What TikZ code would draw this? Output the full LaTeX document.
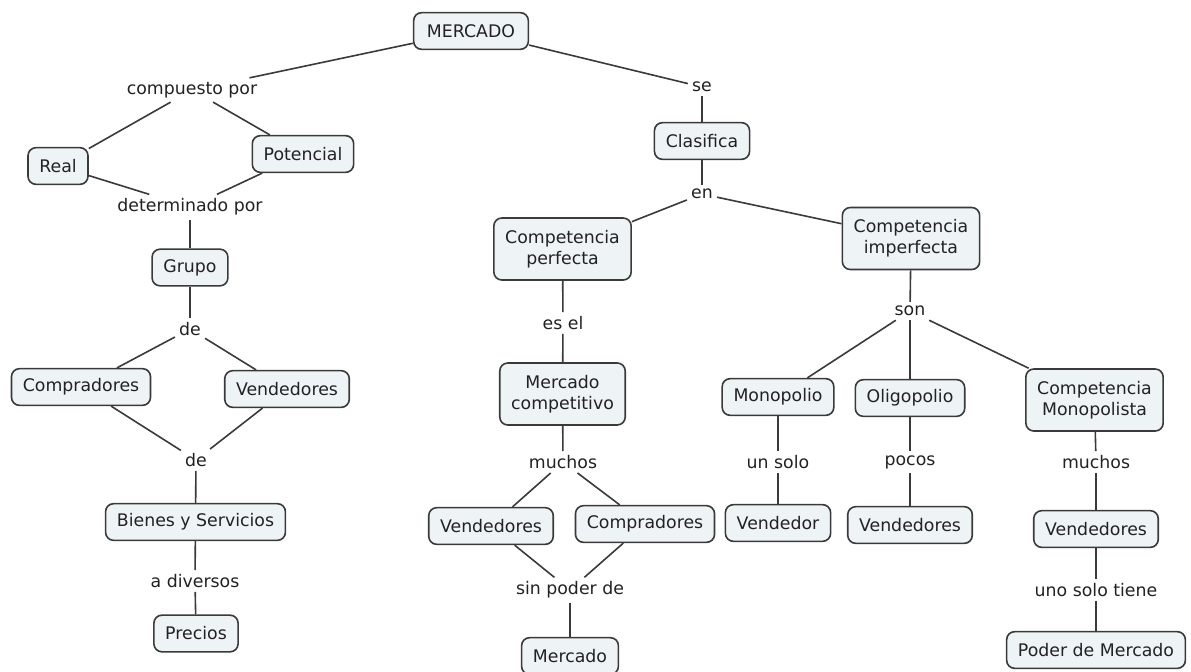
\documentclass[tikz,border=0pt]{standalone}
\usepackage{fontspec}
\setmainfont{DejaVu Sans}
\definecolor{boxfill}{HTML}{EEF3F6}
\definecolor{edge}{HTML}{3A3A3A}
\definecolor{txt}{HTML}{222222}
\begin{document}
\begin{tikzpicture}[x=0.75pt,y=-0.75pt,
  concept/.style={draw=edge,fill=boxfill,rounded corners=6pt,line width=1.2pt,
    inner xsep=8.5pt,inner ysep=4pt,minimum height=27.5pt,align=center,text=txt,
    font=\fontsize{13}{16}\selectfont},
  twoline/.style={minimum height=46.5pt},
  link/.style={inner sep=3pt,text=txt,font=\fontsize{13}{16}\selectfont},
  conn/.style={draw=edge,line width=1.2pt}]
\useasboundingbox[fill=white] (0,0) rectangle (1191,671);
% concepts
\node[concept,inner xsep=10pt] (mercado) at (471,31) {MERCADO};
\node[concept] (real) at (58,166) {Real};
\node[concept] (potencial) at (303,154) {Potencial};
\node[concept] (clasifica) at (702,141) {Clasifica};
\node[concept,twoline] (cperf) at (562.5,249) {Competencia\\perfecta};
\node[concept,twoline] (cimp) at (911,238.5) {Competencia\\imperfecta};
\node[concept] (grupo) at (190,267.5) {Grupo};
\node[concept] (compr1) at (81,387) {Compradores};
\node[concept] (vend1) at (287,389) {Vendedores};
\node[concept,twoline] (mcomp) at (562.5,394) {Mercado\\competitivo};
\node[concept] (monop) at (778,397) {Monopolio};
\node[concept] (oligo) at (910,398) {Oligopolio};
\node[concept,twoline] (cmono) at (1094.5,400) {Competencia\\Monopolista};
\node[concept] (bienes) at (195.5,522) {Bienes y Servicios};
\node[concept] (vend2) at (491,526) {Vendedores};
\node[concept] (compr2) at (645,524) {Compradores};
\node[concept] (vendedor) at (778,523) {Vendedor};
\node[concept] (vend3) at (910,525) {Vendedores};
\node[concept] (vend4) at (1096,529) {Vendedores};
\node[concept] (precios) at (196,633.5) {Precios};
\node[concept] (mercado2) at (570,656) {Mercado};
\node[concept] (poder) at (1096,650) {Poder de Mercado};
% linking phrases
\node[link] (compuesto) at (192,90) {compuesto por};
\node[link] (se) at (702,87) {se};
\node[link] (determinado) at (190,207) {determinado por};
\node[link] (en) at (702,194) {en};
\node[link] (de1) at (190,329) {de};
\node[link] (esel) at (563,323) {es el};
\node[link] (son) at (910,311) {son};
\node[link] (de2) at (196,460) {de};
\node[link] (muchos1) at (563,462) {muchos};
\node[link] (unsolo) at (778,462) {un solo};
\node[link] (pocos) at (910,462) {pocos};
\node[link] (muchos2) at (1096,462) {muchos};
\node[link] (diversos) at (195,581) {a diversos};
\node[link] (sinpoder) at (570,590) {sin poder de};
\node[link] (unosolo) at (1096,590) {uno solo tiene};
% connectors
\draw[conn] (mercado) -- (compuesto);
\draw[conn] (compuesto) -- (real);
\draw[conn] (compuesto) -- (potencial);
\draw[conn] (real) -- (determinado);
\draw[conn] (potencial) -- (determinado);
\draw[conn] (determinado) -- (grupo);
\draw[conn] (grupo) -- (de1);
\draw[conn] (de1) -- (compr1);
\draw[conn] (de1) -- (vend1);
\draw[conn] (compr1) -- (de2);
\draw[conn] (vend1) -- (de2);
\draw[conn] (de2) -- (bienes);
\draw[conn] (bienes) -- (diversos);
\draw[conn] (diversos) -- (precios);
\draw[conn] (mercado) -- (se);
\draw[conn] (se) -- (clasifica);
\draw[conn] (clasifica) -- (en);
\draw[conn] (en) -- (cperf);
\draw[conn] (en) -- (cimp);
\draw[conn] (cperf) -- (esel);
\draw[conn] (esel) -- (mcomp);
\draw[conn] (mcomp) -- (muchos1);
\draw[conn] (muchos1) -- (vend2);
\draw[conn] (muchos1) -- (compr2);
\draw[conn] (vend2) -- (sinpoder);
\draw[conn] (compr2) -- (sinpoder);
\draw[conn] (sinpoder) -- (mercado2);
\draw[conn] (cimp) -- (son);
\draw[conn] (son) -- (monop);
\draw[conn] (son) -- (oligo);
\draw[conn] (son) -- (cmono);
\draw[conn] (monop) -- (unsolo);
\draw[conn] (unsolo) -- (vendedor);
\draw[conn] (oligo) -- (pocos);
\draw[conn] (pocos) -- (vend3);
\draw[conn] (cmono) -- (muchos2);
\draw[conn] (muchos2) -- (vend4);
\draw[conn] (vend4) -- (unosolo);
\draw[conn] (unosolo) -- (poder);
\end{tikzpicture}
\end{document}
